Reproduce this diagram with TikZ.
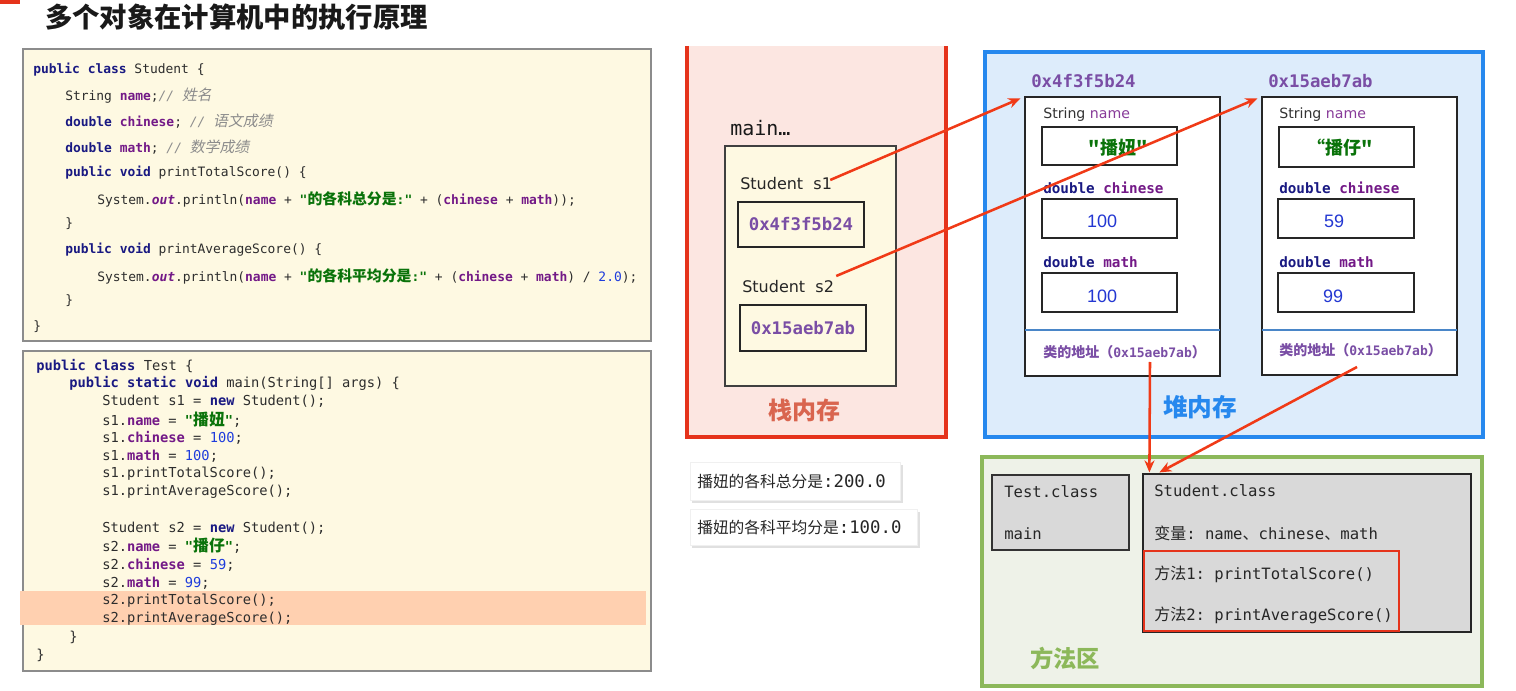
\documentclass[tikz,border=0pt]{standalone}
\usepackage{fontspec}
\setmonofont{DejaVu Sans Mono}
\newfontfamily\cjk{Noto Sans CJK SC}
\newfontfamily\cjkc{Noto Sans CJK SC}[Scale=1.15]
\newfontfamily\cjki{Noto Sans CJK SC}[Scale=1.15,FakeSlant=0.2]
\newfontfamily\dvs{DejaVu Sans}
\newfontfamily\las{Liberation Sans}
\usetikzlibrary{arrows.meta,fit}
\definecolor{kwc}{RGB}{25,25,130}
\definecolor{fdc}{RGB}{115,25,135}
\definecolor{stc}{RGB}{10,115,10}
\definecolor{cmc}{RGB}{140,140,140}
\definecolor{nmc}{RGB}{30,60,220}
\definecolor{plainc}{RGB}{45,45,45}
\definecolor{codefill}{RGB}{254,249,226}
\definecolor{hlfill}{RGB}{255,208,176}
\definecolor{stackfill}{RGB}{252,230,225}
\definecolor{stackborder}{RGB}{229,51,27}
\definecolor{stacktext}{RGB}{217,101,79}
\definecolor{heapfill}{RGB}{221,236,251}
\definecolor{heapborder}{RGB}{38,136,238}
\definecolor{sepc}{RGB}{74,134,200}
\definecolor{methfill}{RGB}{238,242,232}
\definecolor{methborder}{RGB}{140,184,90}
\definecolor{classfill}{RGB}{217,217,217}
\definecolor{addrc}{RGB}{122,78,165}
\definecolor{arrowc}{RGB}{240,58,23}
\definecolor{valc}{RGB}{35,55,210}
\newcommand\jkw[1]{{\bfseries\color{kwc}#1}}
\newcommand\jfd[1]{{\bfseries\color{fdc}#1}}
\newcommand\jout[1]{{\bfseries\itshape\color{fdc}#1}}
\newcommand\jst[1]{{\bfseries\color{stc}#1}}
\newcommand\jcm[1]{{\itshape\color{cmc}#1}}
\newcommand\jnm[1]{{\color{nmc}#1}}
\begin{document}
\begin{tikzpicture}[x=0.75pt,y=-0.75pt,
  code/.style={anchor=west,inner sep=0pt,text=plainc,font=\ttfamily\fontsize{9.7}{11}\selectfont},
  codeb/.style={code,font=\ttfamily\fontsize{10.3}{12}\selectfont},
  fitbox/.style={inner sep=0pt,line width=0.9pt,draw=black!85},
  addrtxt/.style={inner sep=0pt,text=addrc,font=\ttfamily\bfseries\fontsize{13}{15}\selectfont},
  heaplbl/.style={anchor=west,inner sep=0pt,font=\ttfamily\bfseries\fontsize{10.7}{12}\selectfont},
  valtxt/.style={inner sep=0pt,text=valc,font=\las\fontsize{13.5}{15}\selectfont},
  classtxt/.style={anchor=west,inner sep=0pt,text=black!85,font=\ttfamily\fontsize{11.7}{14}\selectfont},
  redarrow/.style={draw=arrowc,line width=1.9pt,-{Stealth[length=9pt,width=7.5pt]}},
  outtxt/.style={anchor=west,inner sep=0pt,text=black!85}]
\useasboundingbox (0,0) rectangle (1516,691);
\fill[white] (0,0) rectangle (1516,691);
% title
\fill[stackborder] (0,0) rectangle (20,4);
\node[anchor=west,inner sep=0pt,text=black!90,font=\cjk\bfseries\fontsize{20.5}{24}\selectfont] (title) at (45,17) {多个对象在计算机中的执行原理};

% ---------- code box 1
\node[fit={(23,49)(651,341)},inner sep=0pt,fill=codefill,draw=black!45,line width=0.8pt] (code1) {};
\node[code] (a1) at (33,70) {\jkw{public class} Student \{};
\node[code] (a2) at (65,96) {String \jfd{name};\jcm{// {\cjki\upshape 姓名}}};
\node[code] (a3) at (65,121) {\jkw{double} \jfd{chinese}; \jcm{// {\cjki\upshape 语文成绩}}};
\node[code] (a4) at (65,147) {\jkw{double} \jfd{math}; \jcm{// {\cjki\upshape 数学成绩}}};
\node[code] (a5) at (65,173) {\jkw{public void} printTotalScore() \{};
\node[code] (a6) at (97,199) {System.\jout{out}.println(\jfd{name} + \jst{"{\cjkc 的各科总分是}:"} + (\jfd{chinese} + \jfd{math}));};
\node[code] (a7) at (65,224) {\}};
\node[code] (a8) at (65,250) {\jkw{public void} printAverageScore() \{};
\node[code] (a9) at (97,276) {System.\jout{out}.println(\jfd{name} + \jst{"{\cjkc 的各科平均分是}:"} + (\jfd{chinese} + \jfd{math}) / \jnm{2.0});};
\node[code] (a10) at (65,301) {\}};
\node[code] (a11) at (33,327) {\}};

% ---------- code box 2
\node[fit={(23,351)(651,671)},inner sep=0pt,fill=codefill,draw=black!45,line width=0.8pt] (code2) {};
\fill[hlfill] (20,591) rectangle (646,625);
\node[codeb] (b1) at (36,366) {\jkw{public class} Test \{};
\node[codeb] (b2) at (69,383) {\jkw{public static void} main(String[] args) \{};
\node[codeb] (b3) at (102,401) {Student s1 = \jkw{new} Student();};
\node[codeb] (b4) at (102,420) {s1.\jfd{name} = \jst{"{\cjkc 播妞}"};};
\node[codeb] (b5) at (102,438) {s1.\jfd{chinese} = \jnm{100};};
\node[codeb] (b6) at (102,456) {s1.\jfd{math} = \jnm{100};};
\node[codeb] (b7) at (102,474) {s1.printTotalScore();};
\node[codeb] (b8) at (102,492) {s1.printAverageScore();};
\node[codeb] (b9) at (102,528) {Student s2 = \jkw{new} Student();};
\node[codeb] (b10) at (102,546) {s2.\jfd{name} = \jst{"{\cjkc 播仔}"};};
\node[codeb] (b11) at (102,565) {s2.\jfd{chinese} = \jnm{59};};
\node[codeb] (b12) at (102,583) {s2.\jfd{math} = \jnm{99};};
\node[codeb] (b13) at (102,601) {s2.printTotalScore();};
\node[codeb] (b14) at (102,619) {s2.printAverageScore();};
\node[codeb] (b15) at (69,637) {\}};
\node[codeb] (b16) at (36,655) {\}};

% ---------- stack
\fill[stackfill] (687,46) rectangle (946,437);
\draw[stackborder,line width=2.3pt] (687,46) -- (687,437) -- (946,437) -- (946,46);
\node[anchor=west,inner sep=0pt,text=black!90,font=\ttfamily\fontsize{15}{18}\selectfont] (mainlbl) at (730,128) {main…};
\node[fit={(725,146)(896,386)},inner sep=0pt,fill=codefill,draw=black!75,line width=0.8pt] (frame) {};
\node[anchor=west,inner sep=0pt,text=black!85,font=\dvs\fontsize{12}{14}\selectfont] (s1lbl) at (740,184) {Student\ \ s1};
\node[fitbox,fit={(738,202)(864,247)}] (s1box) {};
\node[addrtxt] (s1val) at (s1box.center) {0x4f3f5b24};
\node[anchor=west,inner sep=0pt,text=black!85,font=\dvs\fontsize{12}{14}\selectfont] (s2lbl) at (742,287) {Student\ \ s2};
\node[fitbox,fit={(740,305)(866,351)}] (s2box) {};
\node[addrtxt] (s2val) at (s2box.center) {0x15aeb7ab};
\node[inner sep=0pt,text=stacktext,font=\cjk\bfseries\fontsize{18}{20}\selectfont] (stacklbl) at (804,410) {栈内存};

% ---------- heap
\node[fit={(985,52)(1483,437)},inner sep=0pt,fill=heapfill,draw=heapborder,line width=2.3pt] (heap) {};
\node[inner sep=0pt,text=heapborder,font=\cjk\bfseries\fontsize{18.5}{20}\selectfont] (heaplabel) at (1200,407) {堆内存};
% object 1
\node[addrtxt,anchor=west] (h1addr) at (1031,81) {0x4f3f5b24};
\node[fitbox,fit={(1025,97)(1220,376)},fill=white] (obj1) {};
\node[anchor=west,inner sep=0pt,font=\dvs\fontsize{10.6}{12}\selectfont] (o1n) at (1043,115) {\textcolor{black!80}{String} \textcolor{fdc!85}{name}};
\node[fitbox,fit={(1042,127)(1177,165)}] (o1nb) {};
\node[inner sep=0pt,text=stc,font=\cjk\bfseries\fontsize{13.5}{15}\selectfont] (o1nv) at (1118,148) {"播妞"};
\node[heaplbl] (o1c) at (1043,188) {\textcolor{kwc}{double} \textcolor{fdc}{chinese}};
\node[fitbox,fit={(1042,199)(1177,238)}] (o1cb) {};
\node[valtxt] (o1cv) at (1102,221) {100};
\node[heaplbl] (o1m) at (1043,262) {\textcolor{kwc}{double} \textcolor{fdc}{math}};
\node[fitbox,fit={(1042,273)(1177,312)}] (o1mb) {};
\node[valtxt] (o1mv) at (1102,296) {100};
\draw[sepc,line width=1.6pt] (1025,330) -- (1220,330);
\node[anchor=west,inner sep=0pt,text=addrc,font=\bfseries\fontsize{9.8}{11}\selectfont] (addr1) at (1043,352) {{\cjk\fontsize{10.5}{11}\selectfont 类的地址（}{\ttfamily 0x15aeb7ab}{\cjk\fontsize{10.5}{11}\selectfont ）}};
% object 2
\node[addrtxt,anchor=west] (h2addr) at (1268,81) {0x15aeb7ab};
\node[fitbox,fit={(1262,97)(1457,375)},fill=white] (obj2) {};
\node[anchor=west,inner sep=0pt,font=\dvs\fontsize{10.6}{12}\selectfont] (o2n) at (1279,115) {\textcolor{black!80}{String} \textcolor{fdc!85}{name}};
\node[fitbox,fit={(1279,127)(1414,167)}] (o2nb) {};
\node[inner sep=0pt,text=stc,font=\cjk\bfseries\fontsize{13.5}{15}\selectfont] (o2nv) at (1340,148) {“播仔"};
\node[heaplbl] (o2c) at (1279,188) {\textcolor{kwc}{double} \textcolor{fdc}{chinese}};
\node[fitbox,fit={(1278,199)(1414,238)}] (o2cb) {};
\node[valtxt] (o2cv) at (1334,221) {59};
\node[heaplbl] (o2m) at (1279,262) {\textcolor{kwc}{double} \textcolor{fdc}{math}};
\node[fitbox,fit={(1278,273)(1414,312)}] (o2mb) {};
\node[valtxt] (o2mv) at (1333,296) {99};
\draw[sepc,line width=1.6pt] (1262,330) -- (1457,330);
\node[anchor=west,inner sep=0pt,text=addrc,font=\bfseries\fontsize{9.8}{11}\selectfont] (addr2) at (1279,350) {{\cjk\fontsize{10.5}{11}\selectfont 类的地址（}{\ttfamily 0x15aeb7ab}{\cjk\fontsize{10.5}{11}\selectfont ）}};

% ---------- output boxes
\fill[black!12] (692,465) rectangle (903,503);
\node[fit={(690,462)(900,500)},inner sep=0pt,fill=white,draw=black!6] (out1) {};
\node[outtxt] (out1t) at (697,481) {{\cjk\fontsize{11.8}{13}\selectfont 播妞的各科总分是}{\ttfamily\fontsize{13}{14}\selectfont :200.0}};
\fill[black!12] (692,512) rectangle (920,548);
\node[fit={(690,509)(917,545)},inner sep=0pt,fill=white,draw=black!6] (out2) {};
\node[outtxt] (out2t) at (697,527) {{\cjk\fontsize{11.8}{13}\selectfont 播妞的各科平均分是}{\ttfamily\fontsize{13}{14}\selectfont :100.0}};

% ---------- method area
\node[fit={(982,457)(1482,686)},inner sep=0pt,fill=methfill,draw=methborder,line width=2.3pt] (meth) {};
\node[fit={(992,475)(1129,550)},inner sep=0pt,fill=classfill,draw=black!80,line width=0.9pt] (testcls) {};
\node[classtxt] (tc1) at (1004,492) {Test.class};
\node[classtxt] (tc2) at (1004,534) {main};
\node[fit={(1143,474)(1471,632)},inner sep=0pt,fill=classfill,draw=black!85,line width=0.9pt] (stucls) {};
\node[classtxt] (sc1) at (1154,491) {Student.class};
\node[classtxt] (sc2) at (1154,533) {{\cjk\fontsize{12}{14}\selectfont 变量}: name{\cjk\fontsize{12}{14}\selectfont 、}chinese{\cjk\fontsize{12}{14}\selectfont 、}math};
\node[fit={(1144,551)(1399,631)},inner sep=0pt,draw=stackborder,line width=2.2pt] (methbox) {};
\node[classtxt] (sc3) at (1154,574) {{\cjk\fontsize{12}{14}\selectfont 方法}1: printTotalScore()};
\node[classtxt] (sc4) at (1154,615) {{\cjk\fontsize{12}{14}\selectfont 方法}2: printAverageScore()};
\node[inner sep=0pt,text=methborder,font=\cjk\bfseries\fontsize{17.5}{20}\selectfont] (methlbl) at (1065,658) {方法区};

% ---------- arrows
\coordinate (a3s) at (1150,362);
\coordinate (a4s) at (1357,367);
\draw[redarrow] ([shift={(-2,-4)}]s1lbl.east) -- ([shift={(-4,2)}]obj1.north west);
\draw[redarrow] ([shift={(2,-11)}]s2lbl.east) -- ([shift={(-4,2)}]obj2.north west);
\draw[redarrow] (a3s) -- ([shift={(7,-1)}]stucls.north west);
\draw[redarrow] (a4s) -- ([shift={(17,-1)}]stucls.north west);
\end{tikzpicture}
\end{document}
